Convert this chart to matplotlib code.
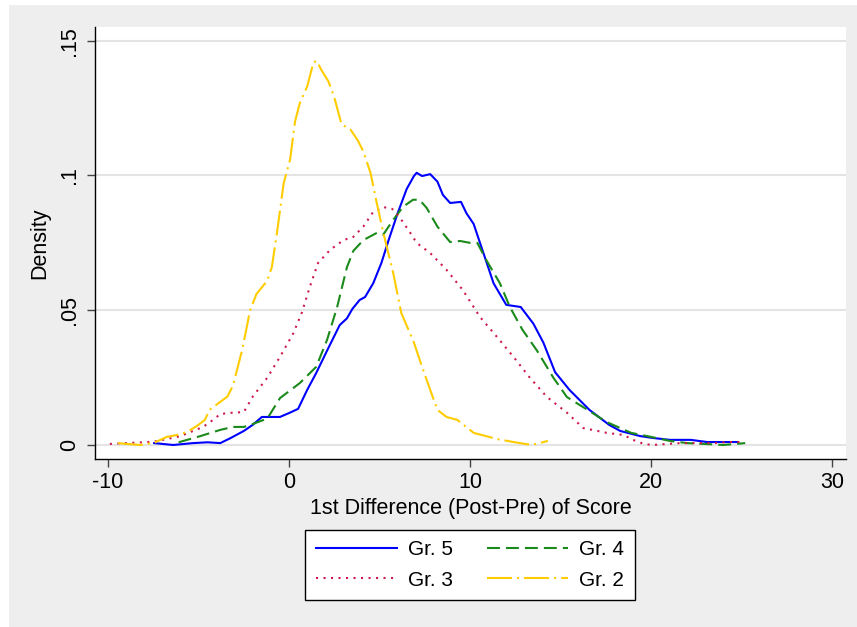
import matplotlib
matplotlib.use("Agg")
import matplotlib.pyplot as plt
from matplotlib.patches import Rectangle
from matplotlib.ticker import FixedLocator

plt.rcParams['font.family'] = ['Liberation Sans', 'DejaVu Sans']
plt.rcParams['axes.unicode_minus'] = False

# density estimates
x5 = [-7.45, -6.4, -5.3, -4.5, -3.8, -3.25, -2.5, -2.0, -1.5, -0.5, 0.05, 0.5, 1.0, 1.5, 2.1,
      2.8, 3.2, 3.5, 3.9, 4.2, 4.65, 5.1, 5.5, 6.0, 6.5, 6.9, 7.05, 7.35, 7.8, 8.2, 8.5, 8.9,
      9.5, 9.8, 10.2, 10.7, 11.3, 12.0, 12.8, 13.5, 14.05, 14.7, 15.5, 16.6, 17.7, 18.3, 19.4,
      20.1, 21.05, 22.2, 23.1, 23.8, 24.8]
y5 = [0.0007, 0.0, 0.0007, 0.001, 0.0007, 0.0025, 0.0052, 0.0075, 0.0104, 0.0104, 0.012, 0.0134,
      0.0204, 0.0267, 0.035, 0.0445, 0.047, 0.0505, 0.0538, 0.0549, 0.060, 0.0675, 0.076, 0.086,
      0.095, 0.0998, 0.101, 0.0998, 0.1005, 0.0977, 0.0928, 0.0898, 0.0902, 0.086, 0.082, 0.072,
      0.060, 0.052, 0.0512, 0.045, 0.038, 0.027, 0.0204, 0.013, 0.0074, 0.0052, 0.0033, 0.0026,
      0.0019, 0.0019, 0.0011, 0.0011, 0.0011]

x4 = [-6.1, -4.9, -3.8, -3.1, -2.5, -2.0, -1.2, -0.5, 0.6, 1.5, 2.1, 2.65, 3.2, 3.55, 4.1, 4.85,
      5.2, 5.75, 6.3, 6.85, 7.2, 7.6, 8.2, 8.9, 9.45, 10.0, 10.4, 10.9, 11.65, 12.2, 12.9, 13.7,
      14.6, 15.35, 16.5, 17.55, 18.9, 20.0, 21.05, 22.0, 22.9, 24.0, 25.2]
y4 = [0.001, 0.0033, 0.0056, 0.0067, 0.0067, 0.0078, 0.0098, 0.0174, 0.023, 0.029, 0.039, 0.051,
      0.066, 0.072, 0.076, 0.0787, 0.078, 0.0835, 0.0884, 0.091, 0.091, 0.088, 0.081, 0.0753,
      0.0757, 0.075, 0.075, 0.0686, 0.060, 0.0512, 0.0427, 0.035, 0.025, 0.0178, 0.013, 0.0085,
      0.0045, 0.003, 0.0015, 0.0007, 0.0004, 0.0, 0.0007]

x3 = [-9.9, -9.0, -7.5, -6.75, -6.0, -5.3, -4.75, -4.2, -3.8, -3.1, -2.5, -2.0, -1.2, -0.5, 0.24,
      0.7, 1.15, 1.6, 2.27, 3.0, 3.55, 4.1, 4.65, 5.2, 5.7, 6.1, 6.7, 7.05, 7.8, 8.7, 9.6, 10.55,
      11.5, 12.4, 13.3, 14.25, 15.35, 16.25, 17.55, 18.5, 19.0, 19.6, 20.1, 20.9, 21.6, 22.6,
      23.5, 24.2, 25.0]
y3 = [0.0004, 0.0007, 0.0012, 0.0022, 0.0033, 0.0052, 0.0067, 0.0093, 0.0115, 0.012, 0.0122,
      0.018, 0.025, 0.0327, 0.0415, 0.049, 0.0587, 0.0675, 0.0724, 0.076, 0.0772, 0.081, 0.0865,
      0.0883, 0.0876, 0.0846, 0.0787, 0.075, 0.0712, 0.065, 0.0575, 0.0475, 0.040, 0.0327, 0.025,
      0.0178, 0.012, 0.0063, 0.0045, 0.0037, 0.0019, 0.0004, 0.0, 0.0004, 0.0007, 0.0007, 0.0007,
      0.0011, 0.0011]

x2 = [-9.45, -9.0, -8.2, -7.4, -6.75, -6.2, -5.65, -5.1, -4.65, -4.4, -3.4, -3.1, -2.6, -2.15,
      -1.8, -1.2, -0.95, -0.66, -0.3, 0.06, 0.33, 0.6, 1.0, 1.35, 1.53, 1.8, 2.17, 2.5, 2.9, 3.4,
      3.8, 4.1, 4.5, 4.85, 5.2, 5.75, 6.2, 6.9, 7.3, 7.8, 8.2, 8.7, 9.3, 10.2, 11.5, 12.4, 13.4,
      14.3]
y2 = [0.0007, 0.0004, 0.0, 0.001, 0.003, 0.0037, 0.0048, 0.007, 0.0093, 0.013, 0.018, 0.022,
      0.035, 0.05, 0.056, 0.061, 0.066, 0.079, 0.097, 0.106, 0.12, 0.127, 0.133, 0.142, 0.1425,
      0.139, 0.135, 0.129, 0.119, 0.117, 0.113, 0.109, 0.101, 0.0897, 0.079, 0.064, 0.049, 0.038,
      0.030, 0.0204, 0.013, 0.0104, 0.0093, 0.0045, 0.0022, 0.0011, 0.0, 0.0015]

xticks = [-10, 0, 10, 20, 30]
yticks = [0, 0.05, 0.1, 0.15]
ytick_labels = ['0', '.05', '.1', '.15']

fig = plt.figure(figsize=(8.57, 6.27), dpi=100, facecolor='white')
# light grey graph region (leaves a thin white strip on the left and top)
fig.patches.append(Rectangle((9 / 857, 0), 1 - 9 / 857, 1 - 5 / 627,
                             transform=fig.transFigure, facecolor='#eeeeee',
                             edgecolor='none', zorder=-10))

ax = fig.add_axes([95 / 857, 168 / 627, (846 - 95) / 857, (459 - 27) / 627])
ax.set_facecolor('white')

lw = 1.5
l5, = ax.plot(x5, y5, color='#0000ff', lw=lw, label='Gr. 5')
l4, = ax.plot(x4, y4, color='#1a8a1a', lw=lw, linestyle=(0, (6.2, 2.9)), label='Gr. 4')
l3, = ax.plot(x3, y3, color='#cc1a4a', lw=lw, linestyle=(0, (1.0, 2.6)), label='Gr. 3')
l2, = ax.plot(x2, y2, color='#ffcc00', lw=lw, linestyle=(0, (12, 2.4, 1, 2.4)), label='Gr. 2')

ax.set_xlim(-10.72, 30.77)
ax.set_ylim(-0.0052, 0.1551)
ax.xaxis.set_major_locator(FixedLocator(xticks))
ax.set_yticks(yticks)
ax.set_yticklabels(ytick_labels, rotation=90, va='center')
ax.yaxis.grid(True, color='#e4e4e4', lw=1.5)
ax.set_axisbelow(True)

for side in ['top', 'right']:
    ax.spines[side].set_visible(False)
for side in ['left', 'bottom']:
    ax.spines[side].set_color('black')
    ax.spines[side].set_linewidth(1.0)

ax.tick_params(axis='both', direction='out', length=6, width=1.0, color='#444444',
               labelsize=15.5, labelcolor='black')
ax.tick_params(axis='x', pad=3)
ax.tick_params(axis='y', pad=5)

ax.set_xlabel('1st Difference (Post-Pre) of Score', fontsize=15.5, labelpad=4)
ax.set_ylabel('Density', fontsize=15.5, labelpad=6)

# column-major fill: Gr.5 / Gr.3 in first column, Gr.4 / Gr.2 in second
leg = fig.legend([l5, l3, l4, l2], ['Gr. 5', 'Gr. 3', 'Gr. 4', 'Gr. 2'],
                 loc='center', bbox_to_anchor=(470 / 857, 1 - 565 / 627), ncol=2,
                 fontsize=15, frameon=True, fancybox=False, edgecolor='black', framealpha=1,
                 handlelength=3.9, handletextpad=0.55, columnspacing=1.6,
                 borderpad=0.5, borderaxespad=0, labelspacing=0.55)
leg.get_frame().set_linewidth(1.0)
leg.get_frame().set_facecolor('white')

fig.savefig('out.png', dpi=100, facecolor=fig.get_facecolor())
